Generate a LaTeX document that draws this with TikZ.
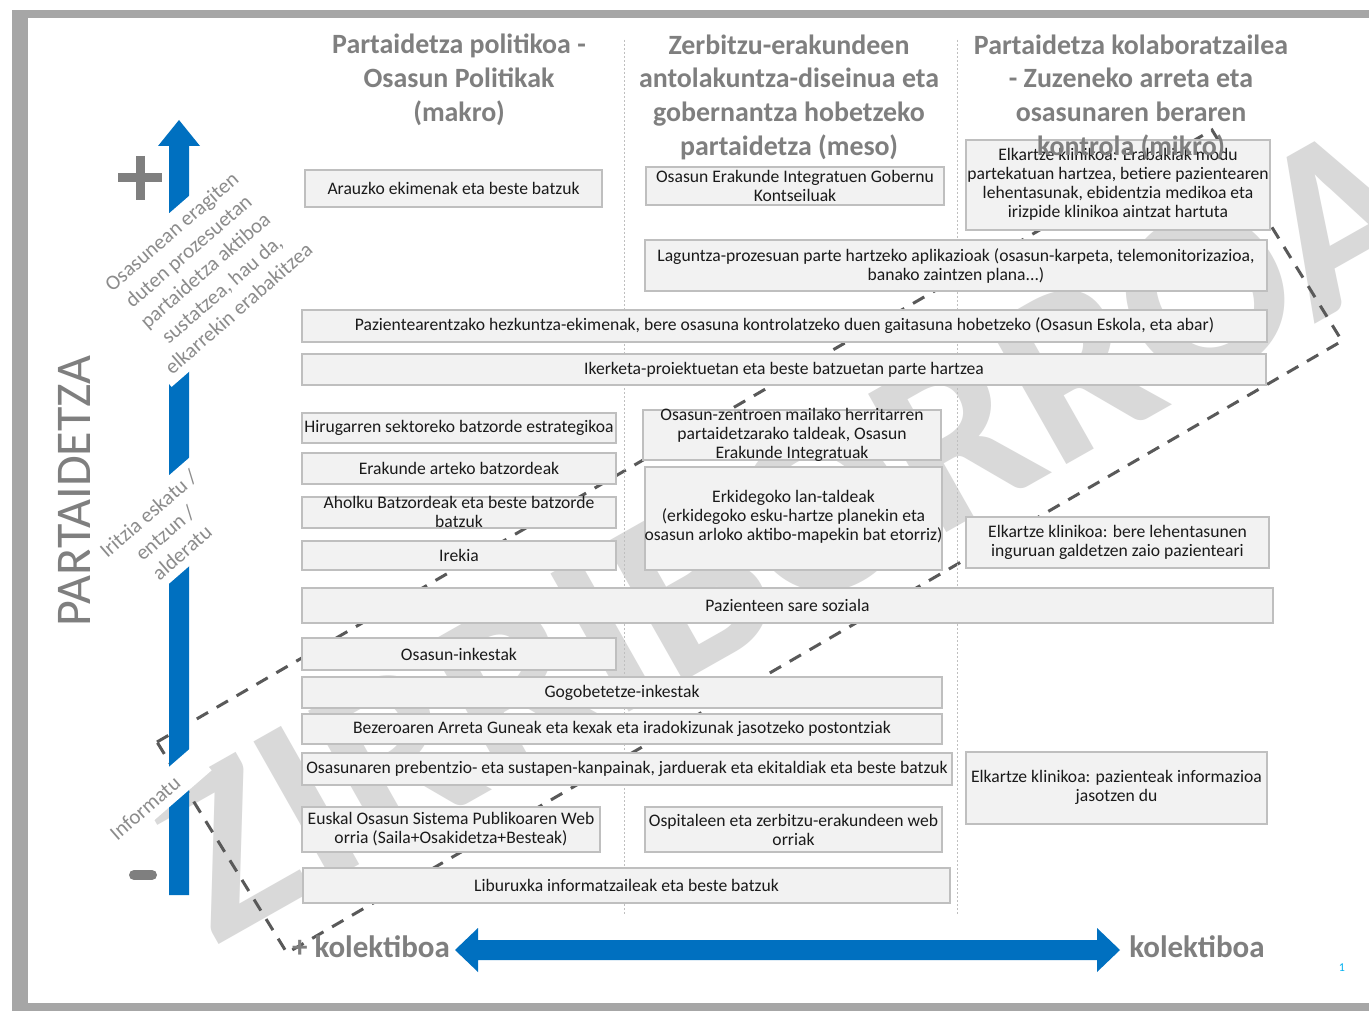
\documentclass[tikz,border=0pt]{standalone}
\usepackage{fontspec}
\setmainfont{Carlito}
\definecolor{slideblue}{HTML}{0070C0}
\definecolor{headgray}{HTML}{7F7F7F}
\definecolor{sidegray}{HTML}{8C8C8C}
\definecolor{boxfill}{HTML}{F2F2F2}
\definecolor{boxline}{HTML}{BFBFBF}
\definecolor{boxink}{HTML}{1A1A1A}
\definecolor{markgray}{HTML}{D9D9D9}
\definecolor{dashgray}{HTML}{595959}
\definecolor{framegray}{HTML}{A6A6A6}
\definecolor{pagecyan}{HTML}{00B0F0}
\tikzset{
  box/.style={draw=boxline, fill=boxfill, line width=1.3pt},
  boxtext/.style={align=center, inner sep=0pt, text=boxink, font=\fontsize{17.6}{19}\selectfont},
  head/.style={align=center, inner sep=0pt, text=headgray, font=\fontsize{27.9}{33.7}\selectfont\bfseries},
  sidetext/.style={align=center, inner sep=8pt, fill=white, text=sidegray, font=\fontsize{21}{25.5}\selectfont},
  axislabel/.style={inner sep=0pt, text=headgray, font=\fontsize{31}{31}\selectfont\bfseries},
  dashline/.style={draw=dashgray, line width=3pt, dash pattern=on 13pt off 10pt},
  divider/.style={draw=boxline, line width=0.8pt, dash pattern=on 2pt off 2pt},
}
\begin{document}
\begin{tikzpicture}[x=1pt,y=-1pt]
\useasboundingbox (0,0) rectangle (1369,1011);

% slide
\fill[white] (0,0) rectangle (1369,1011);
\fill[framegray] (12,10) rectangle (1369,1011);
\fill[white] (28,18) rectangle (1369,1003);

% watermark
\begin{scope}
\clip (28,18) rectangle (1369,1003);
\node[text=markgray, font=\fontsize{245}{245}\selectfont\bfseries, rotate=29.5] (zirriborroa) at (790,530) {ZIRRIBORROA};
\end{scope}

% dashed band
\coordinate (dl) at (157,742);
\coordinate (dt) at (1212,130);
\coordinate (dr) at (1342,341);
\coordinate (db) at (287,953);
\draw[dashline] (dl) -- (dt) -- (dr) -- (db) -- cycle;

% column lines
\draw[divider] (624,40) -- (624,915);
\draw[divider] (957,40) -- (957,915);

% boxes, top
\draw[box] (305,170) rectangle (602,207);
\node[boxtext] (arauzko) at (453.5,188.5) {Arauzko ekimenak eta beste batzuk};
\draw[box] (646,167) rectangle (944,205);
\node[boxtext] (gobernu) at (795,186) {Osasun Erakunde Integratuen Gobernu\\Kontseiluak};
\draw[box] (966,140) rectangle (1270,230);
\node[boxtext] (erabakiak) at (1118,184) {Elkartze klinikoa: Erabakiak modu\\partekatuan hartzea, betiere pazientearen\\lehentasunak, ebidentzia medikoa eta\\irizpide klinikoa aintzat hartuta};
\draw[box] (645,240) rectangle (1267,291);
\node[boxtext] (laguntza) at (956,265.5) {Laguntza-prozesuan parte hartzeko aplikazioak (osasun-karpeta, telemonitorizazioa,\\banako zaintzen plana...)};
\draw[box] (302,310) rectangle (1267,342);
\node[boxtext] (hezkuntza) at (784.5,326) {Pazientearentzako hezkuntza-ekimenak, bere osasuna kontrolatzeko duen gaitasuna hobetzeko (Osasun Eskola, eta abar)};
\draw[box] (302,354) rectangle (1266,385);
\node[boxtext] (ikerketa) at (784,369.5) {Ikerketa-proiektuetan eta beste batzuetan parte hartzea};

% boxes, middle
\draw[box] (302,413) rectangle (616,443);
\node[boxtext] (hirugarren) at (459,428) {Hirugarren sektoreko batzorde estrategikoa};
\draw[box] (302,453) rectangle (616,484);
\node[boxtext] (erakunde) at (459,468.5) {Erakunde arteko batzordeak};
\draw[box] (302,497) rectangle (616,528);
\node[boxtext] (aholku) at (459,511.5) {Aholku Batzordeak eta beste batzorde\\batzuk};
\draw[box] (302,541) rectangle (616,570);
\node[boxtext] (irekia) at (459,555) {Irekia};
\draw[box] (643,410) rectangle (941,460);
\node[boxtext] (zentroak) at (792,435) {Osasun-zentroen mailako herritarren\\partaidetzarako taldeak, Osasun\\Erakunde Integratuak};
\draw[box] (645,467) rectangle (942,570);
\node[boxtext] (erkidegoa) at (793.5,517) {Erkidegoko lan-taldeak\\(erkidegoko esku-hartze planekin eta\\osasun arloko aktibo-mapekin bat etorriz)};
\draw[box] (966,517) rectangle (1269,568);
\node[boxtext] (lehentasunak) at (1117.5,542.5) {Elkartze klinikoa: bere lehentasunen\\inguruan galdetzen zaio pazienteari};
\draw[box] (302,588) rectangle (1273,623);
\node[boxtext] (sarea) at (787.5,605.5) {Pazienteen sare soziala};

% boxes, bottom
\draw[box] (302,638) rectangle (616,670);
\node[boxtext] (inkestak) at (459,654) {Osasun-inkestak};
\draw[box] (302,677) rectangle (942,708);
\node[boxtext] (gogobetetze) at (622,692.5) {Gogobetetze-inkestak};
\draw[box] (302,714) rectangle (942,744);
\node[boxtext] (bezeroa) at (622,729) {Bezeroaren Arreta Guneak eta kexak eta iradokizunak jasotzeko postontziak};
\draw[box] (302,753) rectangle (952,785);
\node[boxtext] (kanpainak) at (627,769) {Osasunaren prebentzio- eta sustapen-kanpainak, jarduerak eta ekitaldiak eta beste batzuk};
\draw[box] (966,752) rectangle (1267,824);
\node[boxtext] (informazioa) at (1116.5,787.5) {Elkartze klinikoa: pazienteak informazioa\\jasotzen du};
\draw[box] (302,807) rectangle (600,852);
\node[boxtext] (weborria) at (451,829.5) {Euskal Osasun Sistema Publikoaren Web\\orria (Saila+Osakidetza+Besteak)};
\draw[box] (645,807) rectangle (942,852);
\node[boxtext] (ospitaleak) at (793.5,829.5) {Ospitaleen eta zerbitzu-erakundeen web\\orriak};
\draw[box] (303,868) rectangle (950,903);
\node[boxtext] (liburuxka) at (626.5,885.5) {Liburuxka informatzaileak eta beste batzuk};

% column heads
\node[head] (makro) at (459,80) {Partaidetza politikoa -\\Osasun Politikak\\(makro)};
\node[head] (meso) at (789,97) {Zerbitzu-erakundeen\\antolakuntza-diseinua eta\\gobernantza hobetzeko\\partaidetza (meso)};
\node[head] (mikro) at (1131,97) {Partaidetza kolaboratzailea\\- Zuzeneko arreta eta\\osasunaren beraren\\kontrola (mikro)};

% vertical axis, cut by the white text bands
\fill[slideblue] (158,146) -- (179,120) -- (200,146) -- (189,146) -- (189,895) -- (169,895) -- (169,146) -- cycle;
\draw[headgray, line width=9pt] (118,178) -- (162,178);
\draw[headgray, line width=9pt] (140,156) -- (140,200);
\draw[headgray, line width=10pt, line cap=round] (134,875) -- (152,875);
\node[rotate=90, text=headgray, font=\fontsize{50}{50}\selectfont] (partaidetza) at (74,491) {PARTAIDETZA};
\node[sidetext, rotate=41] (aktiboa) at (205,270) {Osasunean eragiten\\duten prozesuetan\\partaidetza aktiboa\\sustatzea, hau da,\\elkarrekin erabakitzea};
\node[sidetext, rotate=41] (iritzia) at (165,533) {Iritzia eskatu /\\entzun /\\alderatu};
\node[sidetext, rotate=41, minimum width=150pt] (informatu) at (145,808) {Informatu};

% horizontal axis
\fill[slideblue] (455,950) -- (478,928) -- (478,940) -- (1097,940) -- (1097,928) -- (1120,950) -- (1097,972) -- (1097,960) -- (478,960) -- (478,972) -- cycle;
\node[axislabel] (kolektiboa1) at (371,947) {+ kolektiboa};
\node[axislabel] (kolektiboa2) at (1197,947) {kolektiboa};

\node[text=pagecyan, font=\fontsize{12}{12}\selectfont] (orria) at (1342,968) {1};

\end{tikzpicture}
\end{document}
